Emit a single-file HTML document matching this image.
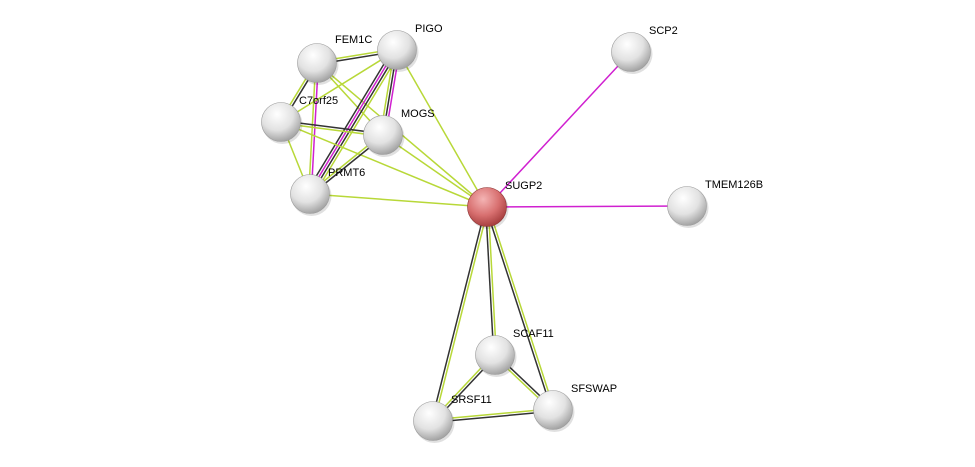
<!DOCTYPE html>
<html><head><meta charset="utf-8"><style>
html,body{margin:0;padding:0;background:#fff;width:975px;height:467px;overflow:hidden}
text{font-family:"Liberation Sans",sans-serif;font-size:11px;fill:#000}
</style></head><body>
<svg id="s" width="975" height="467" xmlns="http://www.w3.org/2000/svg">
<defs>
<radialGradient id="g" cx="0.4" cy="0.3" r="0.75">
<stop offset="0" stop-color="#ffffff"/><stop offset="0.55" stop-color="#e2e2e2"/><stop offset="1" stop-color="#9a9a9a"/>
</radialGradient>
<radialGradient id="r" cx="0.4" cy="0.3" r="0.75">
<stop offset="0" stop-color="#f4b4b4"/><stop offset="0.55" stop-color="#d87070"/><stop offset="1" stop-color="#a03838"/>
</radialGradient>
</defs>
<g id="e"></g><g id="n"></g>
</svg>
<script>
var N={FEM1C:[317,63,'FEM1C',18,-20],PIGO:[397,50,'PIGO',18,-18],C7orf25:[281,122,'C7orf25',18,-18],MOGS:[383,135,'MOGS',18,-18],
PRMT6:[310,194,'PRMT6',18,-18],SUGP2:[487,207,'SUGP2',18,-18],SCP2:[631,52,'SCP2',18,-18],TMEM126B:[687,206,'TMEM126B',18,-18],
SCAF11:[495,355,'SCAF11',18,-18],SRSF11:[433,421,'SRSF11',18,-18],SFSWAP:[553,410,'SFSWAP',18,-18]};
var Y='#b8d838',K='#333',M='#d020d0';
var E=[['FEM1C','PIGO',[Y,K]],['FEM1C','C7orf25',[K,Y]],['FEM1C','MOGS',[Y]],['FEM1C','PRMT6',[M,Y]],['FEM1C','SUGP2',[Y]],
['PIGO','C7orf25',[Y]],['PIGO','MOGS',[M,K,Y]],['PIGO','PRMT6',[Y,K,M,K]],['PIGO','SUGP2',[Y]],
['C7orf25','MOGS',[K,Y]],['C7orf25','PRMT6',[Y]],['C7orf25','SUGP2',[Y]],['MOGS','PRMT6',[K,Y]],['MOGS','SUGP2',[Y]],
['PRMT6','SUGP2',[Y]],['SUGP2','SCP2',[M]],['SUGP2','TMEM126B',[M]],['SUGP2','SCAF11',[Y,K]],['SUGP2','SRSF11',[Y,K]],
['SUGP2','SFSWAP',[Y,K]],['SCAF11','SRSF11',[K,Y]],['SCAF11','SFSWAP',[K,Y]],['SRSF11','SFSWAP',[Y,K]]];
var ns='http://www.w3.org/2000/svg',eg=document.getElementById('e'),ng=document.getElementById('n');
function el(t,a,p){var x=document.createElementNS(ns,t);for(var k in a)x.setAttribute(k,a[k]);p.appendChild(x);return x;}
E.forEach(function(d){var a=N[d[0]],b=N[d[1]],dx=b[0]-a[0],dy=b[1]-a[1],L=Math.hypot(dx,dy),px=-dy/L,py=dx/L,c=d[2],n=c.length;
c.forEach(function(col,i){var o=(i-(n-1)/2)*2.6;el('line',{x1:a[0]+px*o,y1:a[1]+py*o,x2:b[0]+px*o,y2:b[1]+py*o,stroke:col,'stroke-width':1.5},eg);});});
for(var k in N){var v=N[k];
el('circle',{cx:v[0]+1.5,cy:v[1]+2,r:20,fill:'#000',opacity:0.12},ng);
el('circle',{cx:v[0],cy:v[1],r:19.5,fill:k=='SUGP2'?'url(#r)':'url(#g)',stroke:k=='SUGP2'?'#8a3030':'#999','stroke-width':0.6},ng);
var t=el('text',{x:v[0]+v[3],y:v[1]+v[4]},ng);t.textContent=v[2];}
</script>
</body></html>
